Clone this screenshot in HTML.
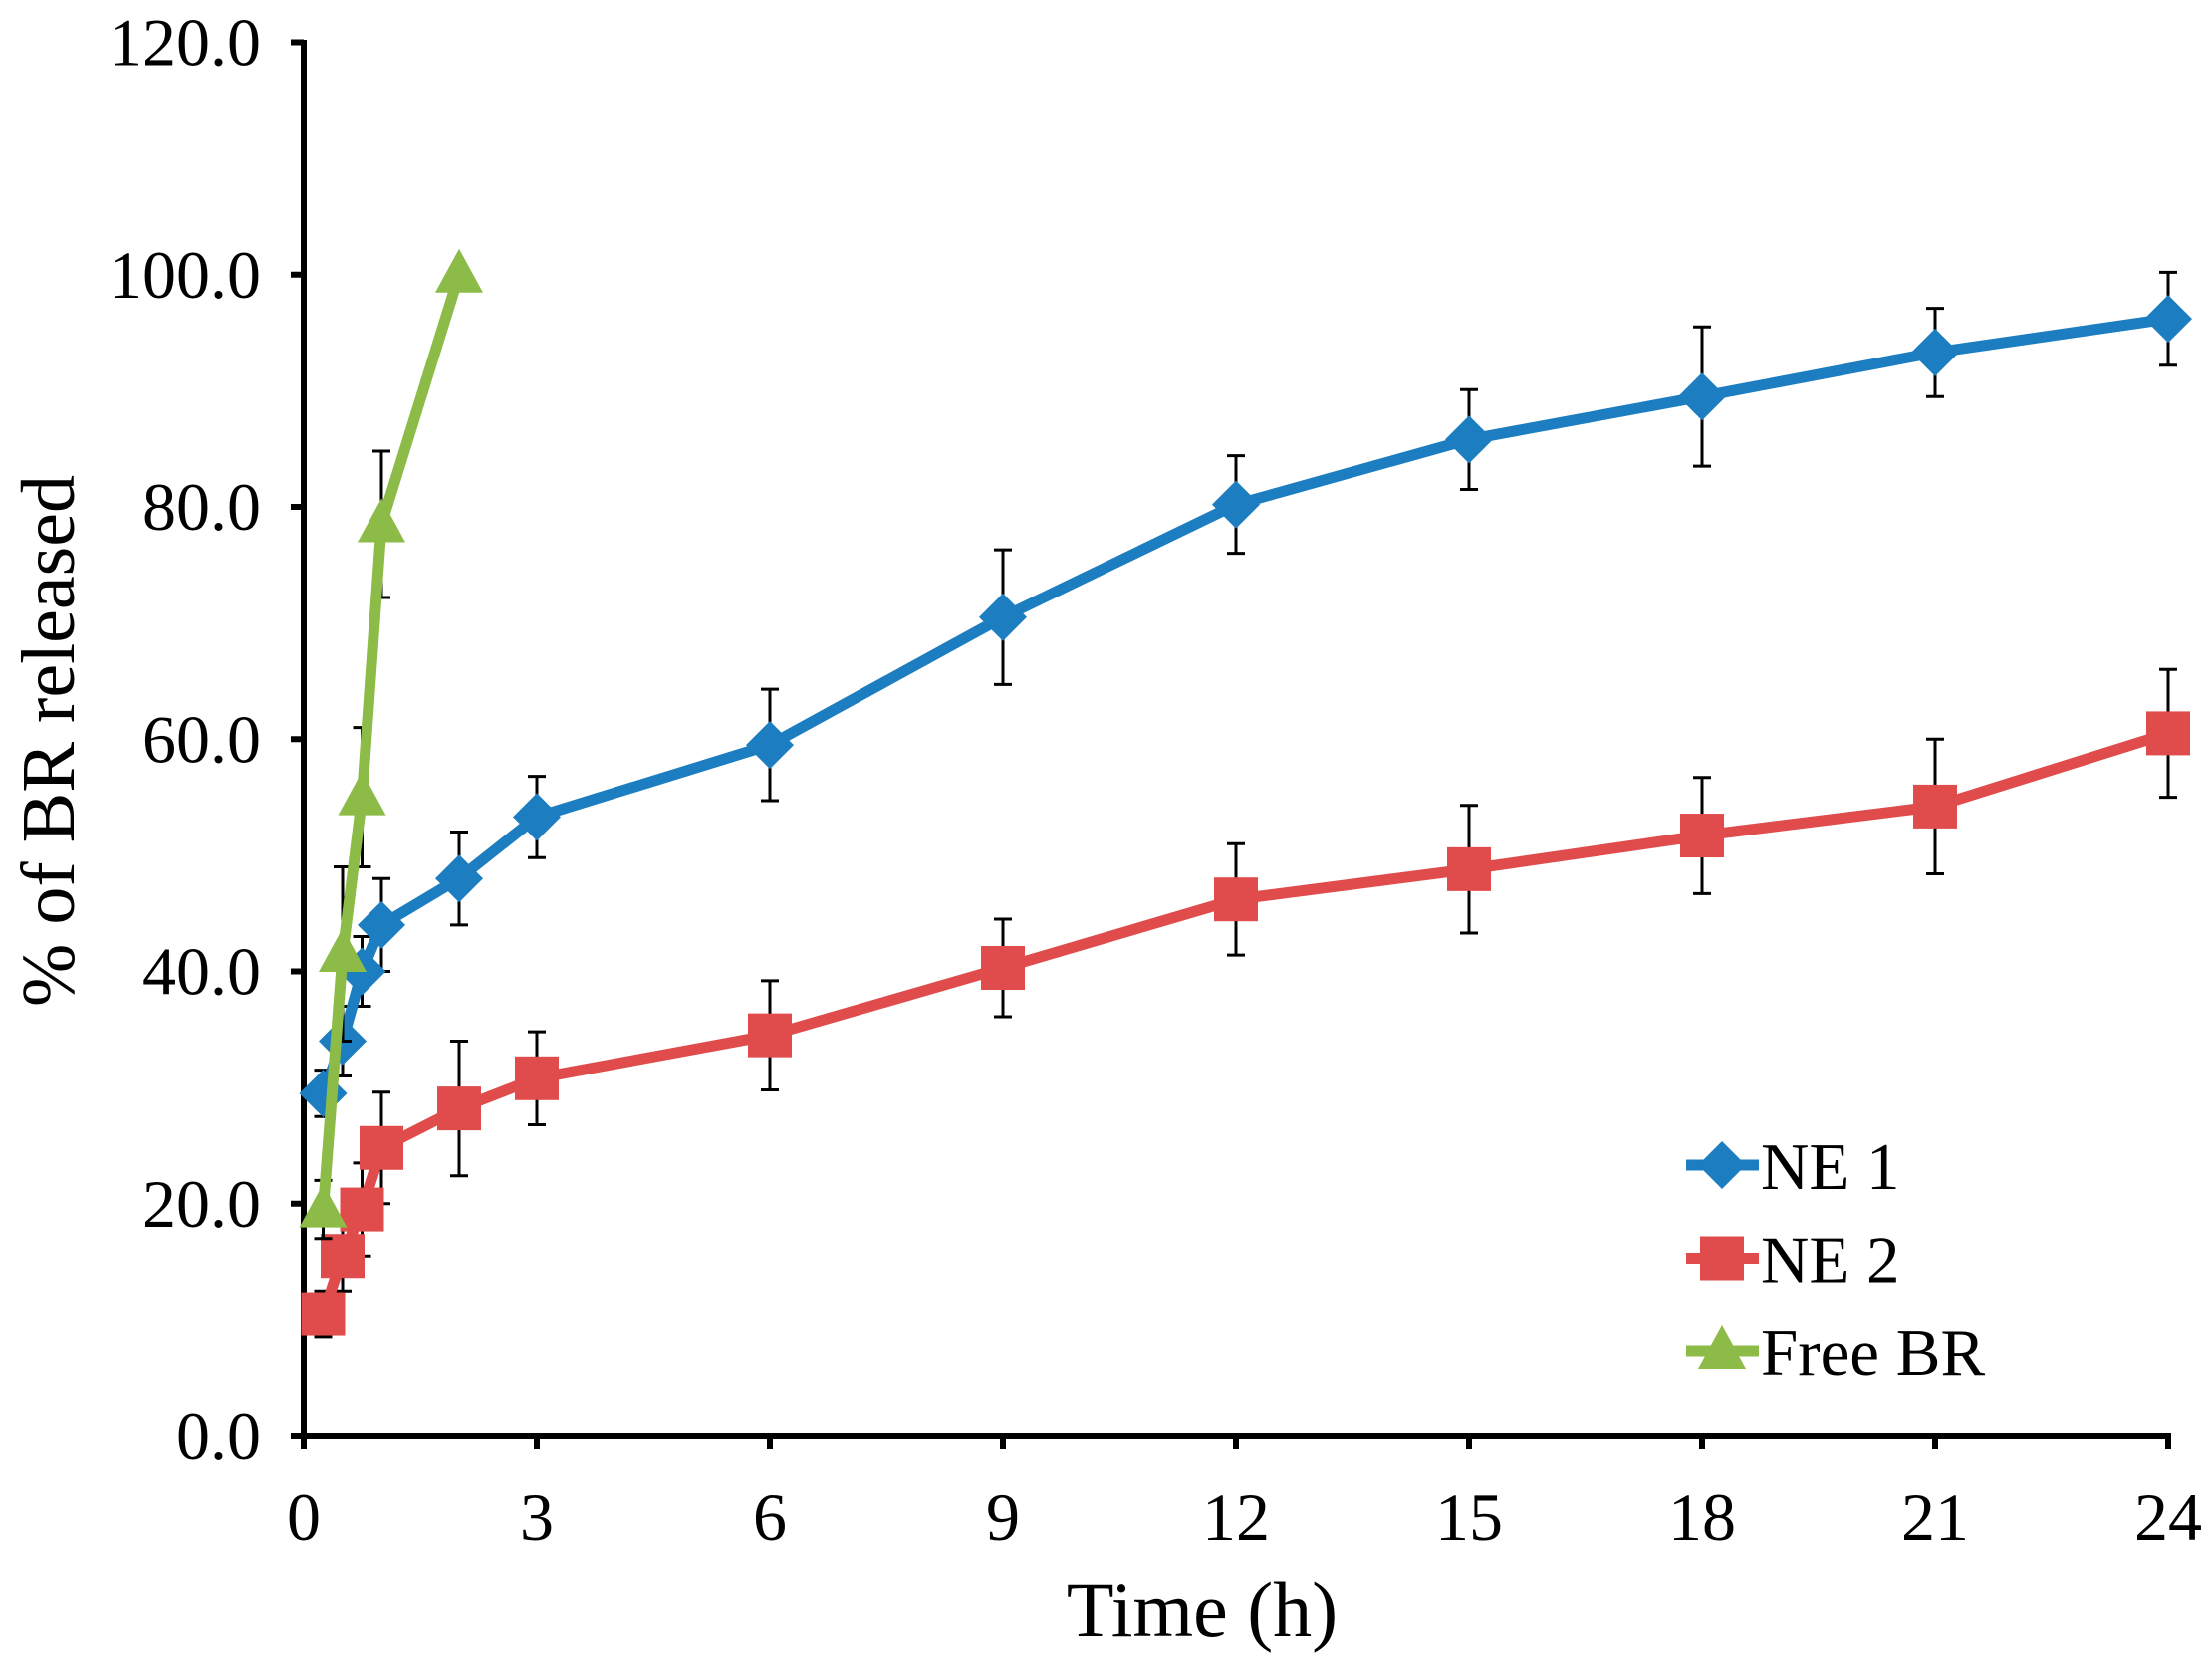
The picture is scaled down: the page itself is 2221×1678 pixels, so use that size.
<!DOCTYPE html>
<html><head><meta charset="utf-8"><style>
body{margin:0;background:#fff}
svg text{font-family:"Liberation Serif",serif;fill:#000}
</style></head><body>
<svg id="chart" width="2221" height="1673" xmlns="http://www.w3.org/2000/svg"></svg>
<script>
const times=[0.25,0.5,0.75,1,2,3,6,9,12,15,18,21,24];
const ne1=[29.5,34,40,44,48,53.3,59.5,70.5,80.2,85.8,89.5,93.3,96.2];
const ne1Err=[2,3,3,4,4,3.5,4.8,5.8,4.2,4.3,6,3.8,4];
const ne2=[10.5,15.5,19.5,24.8,28.2,30.8,34.5,40.3,46.2,48.8,51.7,54.2,60.5];
const ne2Err=[2,3,4,4.8,5.8,4,4.7,4.2,4.8,5.5,5,5.8,5.5];
const freeTimes=[0.25,0.5,0.75,1,2];
const freeBR=[19.5,41.5,55,78.5,100];
const freeErr=[2.5,7.5,6,6.3,0];
const xTicks=[0,3,6,9,12,15,18,21,24];
const yTicks=[0,20,40,60,80,100,120];
const legendLabels=["NE 1","NE 2","Free BR"];

const svg=document.getElementById('chart');
const NS='http://www.w3.org/2000/svg';
const X=t=>305+(t/24)*(2177-305);
const Y=v=>1442-(v/120)*(1442-42.5);
function mk(tag,attrs,parent){const e=document.createElementNS(NS,tag);for(const k in attrs)e.setAttribute(k,attrs[k]);(parent||svg).appendChild(e);return e;}

let ax=mk('line',{x1:305,y1:40,x2:305,y2:1445,stroke:'#000','stroke-width':6});


ax=mk('line',{x1:292,y1:1442,x2:2180,y2:1442,stroke:'#000','stroke-width':6});


yTicks.forEach(v=>{
  const tk=mk('line',{x1:292,y1:Y(v),x2:305,y2:Y(v),stroke:'#000','stroke-width':6});
  
  
  const t=mk('text',{x:262,y:Y(v)+23,'text-anchor':'end','font-size':68});
  t.textContent=v.toFixed(1);
  
  
});
xTicks.forEach(v=>{
  const tk=mk('line',{x1:X(v),y1:1442,x2:X(v),y2:1455,stroke:'#000','stroke-width':6});
  
  
  const t=mk('text',{x:X(v),y:1546,'text-anchor':'middle','font-size':68});
  t.textContent=v;
  
  
});
let tt=mk('text',{x:1207,y:1643,'text-anchor':'middle','font-size':78});
tt.textContent='Time (h)';


tt=mk('text',{x:0,y:0,'text-anchor':'middle','font-size':76,transform:'translate(74,744) rotate(-90)'});
tt.textContent='% of BR released';



function marker(shape,x,y,color,g){
  if(shape==='diamond')return mk('polygon',{points:`${x},${y-24} ${x+24},${y} ${x},${y+24} ${x-24},${y}`,fill:color},g);
  if(shape==='square')return mk('rect',{x:x-22,y:y-22,width:44,height:44,fill:color},g);
  return mk('polygon',{points:`${x},${y-26} ${x+24},${y+18} ${x-24},${y+18}`,fill:color},g);
}
function series(name,xs,ys,errs,color,shape){
  const g=mk('g',{});
  
  
  xs.forEach((t,i)=>{
    if(errs[i]>0){
      const x=X(t),y1=Y(ys[i]+errs[i]),y2=Y(ys[i]-errs[i]);
      const eb=mk('path',{d:`M${x},${y1}V${y2}M${x-9},${y1}H${x+9}M${x-9},${y2}H${x+9}`,stroke:'#000','stroke-width':3,fill:'none'},g);
      
      
    }
  });
  const ln=mk('polyline',{points:xs.map((t,i)=>X(t)+','+Y(ys[i])).join(' '),fill:'none',stroke:color,'stroke-width':11,'stroke-linejoin':'round'},g);
  
  
  xs.forEach((t,i)=>{
    const m=marker(shape,X(t),Y(ys[i]),color,g);
    
    
  });
}
series('ne1',times,ne1,ne1Err,'#1c7dc0','diamond');
series('ne2',times,ne2,ne2Err,'#e04b4b','square');
series('free-br',freeTimes,freeBR,freeErr,'#8cbb48','triangle');

const legColors=['#1c7dc0','#e04b4b','#8cbb48'];
const legShapes=['diamond','square','triangle'];
legendLabels.forEach((lab,i)=>{
  const y=1170+i*93.5;
  const g=mk('g',{});
  
  
  mk('line',{x1:1693,y1:y,x2:1766,y2:y,stroke:legColors[i],'stroke-width':11},g);
  marker(legShapes[i],1729,y,legColors[i],g);
  const t=mk('text',{x:1768,y:y+24,'font-size':67},g);
  t.textContent=lab;
});
</script>
</body></html>
